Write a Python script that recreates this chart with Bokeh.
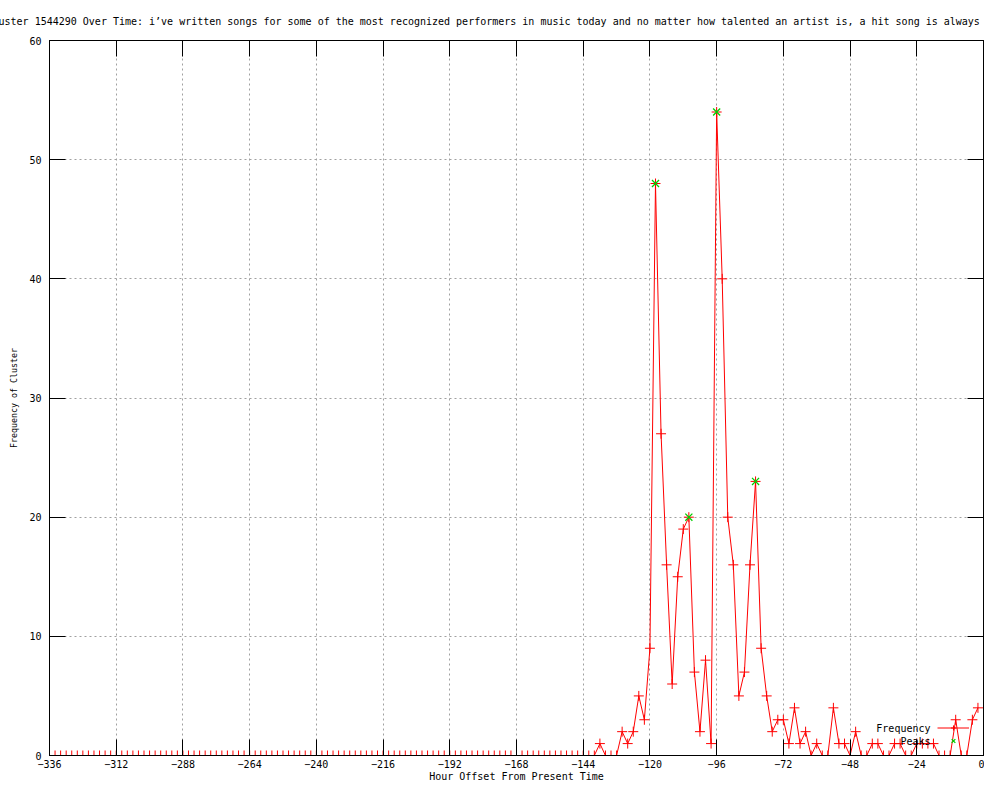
from bokeh.plotting import figure
from bokeh.models import (Range1d, FixedTicker, LinearAxis, Legend, LegendItem,
                          Label, CustomJSTickFormatter)
from bokeh.embed import file_html
from bokeh.resources import INLINE

# ---------------- data ----------------
hours = list(range(-336, 0, 2))
frequency = [
    0, 0, 0, 0, 0, 0, 0, 0, 0, 0, 0, 0,      # -336 .. -314
    0, 0, 0, 0, 0, 0, 0, 0, 0, 0, 0, 0,      # -312 .. -290
    0, 0, 0, 0, 0, 0, 0, 0, 0, 0, 0, 0,      # -288 .. -266
    0, 0, 0, 0, 0, 0, 0, 0, 0, 0, 0, 0,      # -264 .. -242
    0, 0, 0, 0, 0, 0, 0, 0, 0, 0, 0, 0,      # -240 .. -218
    0, 0, 0, 0, 0, 0, 0, 0, 0, 0, 0, 0,      # -216 .. -194
    0, 0, 0, 0, 0, 0, 0, 0, 0, 0, 0, 0,      # -192 .. -170
    0, 0, 0, 0, 0, 0, 0, 0, 0, 0, 0, 0,      # -168 .. -146
    0, 0, 0, 1, 0, 0, 0, 2, 1, 2, 5, 3,      # -144 .. -122
    9, 48, 27, 16, 6, 15, 19, 20, 7, 2, 8, 1,  # -120 .. -98
    54, 40, 20, 16, 5, 7, 16, 23, 9, 5, 2, 3,  # -96 .. -74
    3, 1, 4, 1, 2, 0, 1, 0, 0, 4, 1, 1,      # -72 .. -50
    0, 2, 0, 0, 1, 1, 0, 0, 1, 1, 0, 0,      # -48 .. -26
    1, 1, 1, 1, 0, 0, 0, 3, 0, 0, 3, 4,      # -24 .. -2
]
peak_hours = [-118, -106, -96, -82]
peak_values = [48, 20, 54, 23]

x_ticks = [-336, -312, -288, -264, -240, -216, -192, -168, -144,
           -120, -96, -72, -48, -24, 0]
y_ticks = [0, 10, 20, 30, 40, 50, 60]

title_text = ("Cluster 1544290 Over Time: i\u2019ve written songs for some of the most "
              "recognized performers in music today and no matter how talented an "
              "artist is, a hit song is always a c")
x_label = "Hour Offset From Present Time"
y_label = "Frequency of Cluster"
series_names = ["Frequency", "Peaks"]

FONT = "DejaVu Sans Mono"
RED = "#ff0000"
GREEN = "#00d000"
GRID = "#a0a0a0"

W, H = 984, 784

p = figure(width=W, height=H, output_backend="svg", toolbar_location=None,
           x_range=Range1d(-336, 0), y_range=Range1d(0, 60),
           min_border_left=49, min_border_right=1,
           min_border_top=39, min_border_bottom=27,
           background_fill_color="white", border_fill_color="white",
           outline_line_color="black", outline_line_width=1)

# title (overflows the canvas like the reference)
p.title.text = title_text
p.title.text_font = FONT
p.title.text_font_size = "10px"
p.title.text_font_style = "normal"
p.title.text_color = "black"
p.title.align = "left"
p.title.offset = -63
p.title.standoff = 27

# main axes
for ax in (p.xaxis[0], p.yaxis[0]):
    ax.major_tick_in = 16
    ax.major_tick_out = 0
    ax.minor_tick_in = 0
    ax.minor_tick_out = 0
    ax.axis_line_color = "black"
    ax.major_tick_line_color = "black"
    ax.major_label_text_font = FONT
    ax.major_label_text_font_size = "10px"
    ax.major_label_text_color = "black"
    ax.axis_label_text_font = FONT
    ax.axis_label_text_font_style = "normal"
    ax.axis_label_text_color = "black"

p.xaxis[0].ticker = FixedTicker(ticks=x_ticks)
p.xaxis[0].major_label_standoff = 4
p.xaxis[0].axis_label = x_label
p.xaxis[0].axis_label_text_font_size = "10px"
p.xaxis[0].axis_label_standoff = 0

p.yaxis[0].ticker = FixedTicker(ticks=y_ticks)
p.yaxis[0].major_label_standoff = 8
p.yaxis[0].axis_label = y_label
p.yaxis[0].axis_label_text_font_size = "8.3px"
p.yaxis[0].axis_label_standoff = 7

# mirrored ticks on top and right
blank = CustomJSTickFormatter(code="return ''")
top_ax = LinearAxis(ticker=FixedTicker(ticks=x_ticks), formatter=blank,
                    major_tick_in=16, major_tick_out=0, minor_tick_in=0, minor_tick_out=0,
                    major_label_standoff=0, axis_line_color="black",
                    major_tick_line_color="black")
right_ax = LinearAxis(ticker=FixedTicker(ticks=y_ticks), formatter=blank,
                      major_tick_in=16, major_tick_out=0, minor_tick_in=0, minor_tick_out=0,
                      major_label_standoff=0, axis_line_color="black",
                      major_tick_line_color="black")
p.add_layout(top_ax, "above")
p.add_layout(right_ax, "right")

# grid
p.xgrid.ticker = FixedTicker(ticks=x_ticks)
p.ygrid.ticker = FixedTicker(ticks=y_ticks)
for g in (p.xgrid[0], p.ygrid[0]):
    g.grid_line_color = GRID
    g.grid_line_dash = "2 3"
    g.grid_line_width = 1

# series
line_r = p.line(hours, frequency, line_color=RED, line_width=1)
pts_r = p.scatter(hours, frequency, marker="cross", size=10, line_color=RED, line_width=1)
peak_r = p.scatter(peak_hours, peak_values, marker="x", size=10, line_color=GREEN,
                   line_width=1.3)

# gnuplot-style key: text on the left, sample on the right
legend = Legend(items=[LegendItem(label=" ", renderers=[line_r, pts_r]),
                       LegendItem(label=" ", renderers=[peak_r])],
                location=(888, 8), padding=0, margin=0, spacing=0,
                glyph_width=32, glyph_height=13, label_standoff=0,
                label_width=0, label_height=13, label_text_font_size="10px",
                border_line_alpha=0, background_fill_alpha=0)
p.add_layout(legend, "center")

for name, yy in zip(series_names, [27, 14]):
    p.add_layout(Label(x=881, y=yy, x_units="screen", y_units="screen", text=name,
                       text_align="right", text_baseline="middle", text_font=FONT,
                       text_font_size="10px", text_color="black"))

open("out.html", "w").write(file_html(p, INLINE))
